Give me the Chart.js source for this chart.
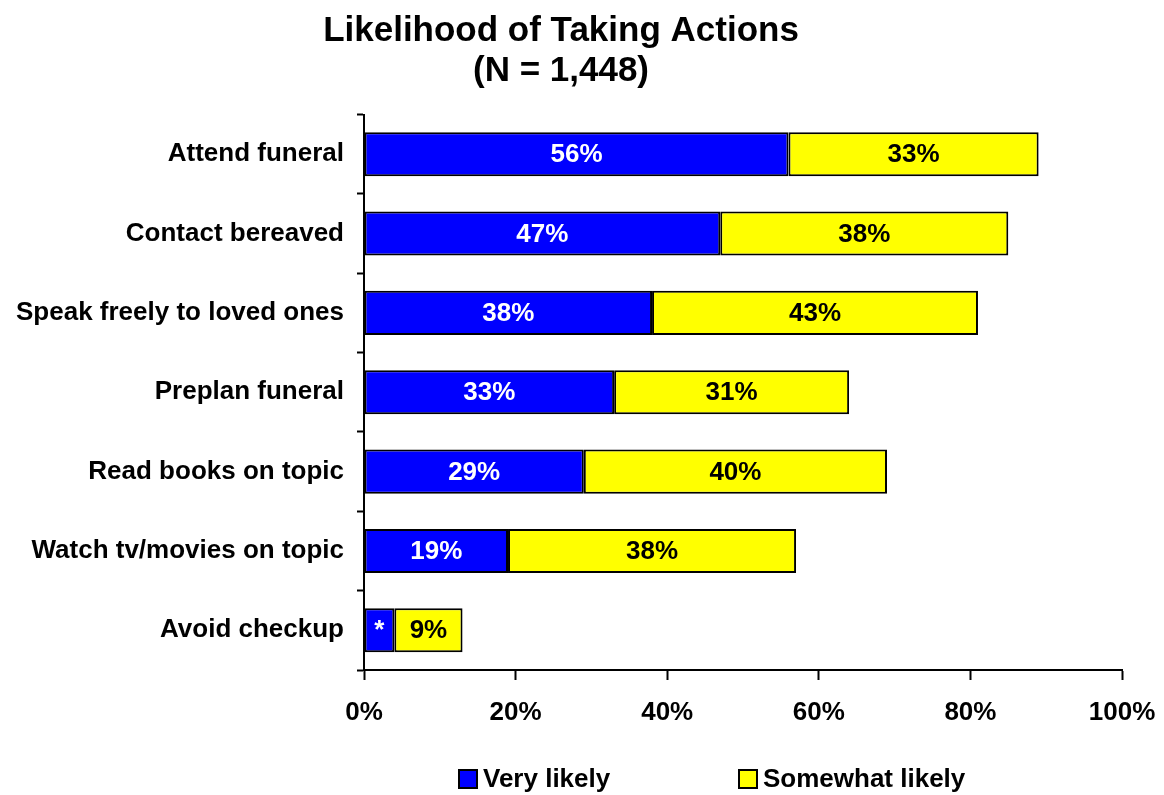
<!DOCTYPE html>
<html>
<head>
<meta charset="utf-8">
<script src="https://cdn.jsdelivr.net/npm/chart.js@4.4.0/dist/chart.umd.min.js"></script>
<style>
  html, body { margin: 0; padding: 0; background: #fff; }
  #wrap { width: 1164px; height: 795px; }
</style>
</head>
<body>
<div id="wrap"><canvas id="grafico" width="1164" height="795"></canvas></div>
<script>
// datos del grafico
const categorias = [
  "Attend funeral",
  "Contact bereaved",
  "Speak freely to loved ones",
  "Preplan funeral",
  "Read books on topic",
  "Watch tv/movies on topic",
  "Avoid checkup"
];
const muyProbable = [56, 47, 38, 33, 29, 19, 4];
const algoProbable = [33, 38, 43, 31, 40, 38, 9];
const etiquetasMuy = ["56%", "47%", "38%", "33%", "29%", "19%", "*"];
const etiquetasAlgo = ["33%", "38%", "43%", "31%", "40%", "38%", "9%"];
const nombresSeries = ["Very likely", "Somewhat likely"];
const ticksX = [0, 20, 40, 60, 80, 100];

const fuente = "Arial, 'Liberation Sans', sans-serif";

// etiquetas dentro de las barras
const pluginEtiquetas = {
  id: "etiquetas",
  afterDatasetsDraw(chart) {
    const ctx = chart.ctx;
    ctx.save();
    ctx.font = "bold 26px " + fuente;
    ctx.textAlign = "center";
    ctx.textBaseline = "middle";
    chart.data.datasets.forEach((ds, i) => {
      const meta = chart.getDatasetMeta(i);
      const textos = i === 0 ? etiquetasMuy : etiquetasAlgo;
      meta.data.forEach((bar, j) => {
        const x = (bar.x + bar.base) / 2;
        ctx.fillStyle = i === 0 ? "#ffffff" : "#000000";
        ctx.fillText(textos[j], x, bar.y + 1);
      });
    });
    ctx.restore();
  }
};

// leyenda dibujada a mano
const pluginLeyenda = {
  id: "leyenda",
  afterDraw(chart) {
    const ctx = chart.ctx;
    ctx.save();
    ctx.font = "bold 26px " + fuente;
    ctx.textBaseline = "middle";
    const posiciones = [459, 739];
    const y = 779;
    chart.data.datasets.forEach((ds, i) => {
      const x = posiciones[i];
      ctx.fillStyle = ds.backgroundColor;
      ctx.fillRect(x, y - 9, 18, 18);
      ctx.lineWidth = 2;
      ctx.strokeStyle = "#000";
      ctx.strokeRect(x, y - 9, 18, 18);
      ctx.fillStyle = "#000";
      ctx.fillText(ds.label, x + 24, y + 1);
    });
    ctx.restore();
  }
};

const config = {
  type: "bar",
  data: {
    labels: categorias,
    datasets: [
      {
        label: nombresSeries[0],
        data: muyProbable,
        backgroundColor: "#0000ff",
        borderColor: "#000000",
        borderWidth: 2,
        borderSkipped: false,
        barPercentage: 0.555,
        categoryPercentage: 1
      },
      {
        label: nombresSeries[1],
        data: algoProbable,
        backgroundColor: "#ffff00",
        borderColor: "#000000",
        borderWidth: 2,
        borderSkipped: false,
        barPercentage: 0.555,
        categoryPercentage: 1
      }
    ]
  },
  options: {
    indexAxis: "y",
    responsive: false,
    animation: false,
    layout: { padding: { left: 0, right: 42, top: 0, bottom: 62 } },
    plugins: {
      legend: { display: false },
      tooltip: { enabled: false },
      title: {
        display: true,
        text: ["Likelihood of Taking Actions", "(N = 1,448)"],
        color: "#000",
        font: { family: fuente, size: 35, weight: "bold", lineHeight: 1.15 },
        padding: { top: 11, bottom: 23 }
      }
    },
    scales: {
      x: {
        stacked: true,
        min: 0,
        max: 100,
        afterBuildTicks(scale) {
          scale.ticks = ticksX.map(v => ({ value: v }));
        },
        afterFit(scale) {
          scale.height = 63;
          scale.paddingLeft = 0;
          scale.paddingRight = 0;
        },
        ticks: {
          color: "#000",
          font: { family: fuente, size: 26, weight: "bold" },
          padding: 17,
          callback: v => v + "%"
        },
        grid: { drawOnChartArea: false, tickLength: 10, tickColor: "#000", tickWidth: 2 },
        border: { color: "#000", width: 2 }
      },
      y: {
        stacked: true,
        afterFit(scale) { scale.width = 364; },
        ticks: {
          color: "#000",
          font: { family: fuente, size: 26, weight: "bold" },
          padding: 13
        },
        grid: { drawOnChartArea: false, offset: true, tickLength: 7, tickColor: "#000", tickWidth: 2 },
        border: { color: "#000", width: 2 }
      }
    }
  },
  plugins: [pluginEtiquetas, pluginLeyenda]
};

const ctx = document.getElementById("grafico").getContext("2d");
const myChart = new Chart(ctx, config);
</script>
</body>
</html>
